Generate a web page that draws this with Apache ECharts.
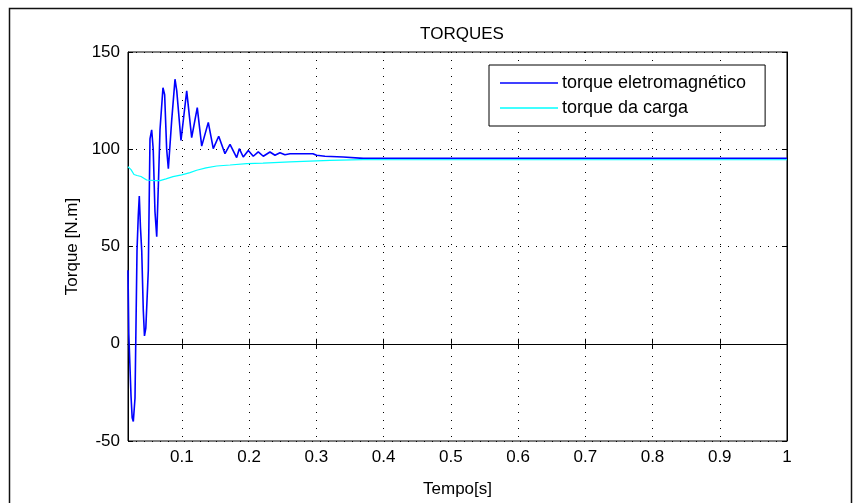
<!DOCTYPE html>
<html>
<head>
<meta charset="utf-8">
<script src="https://cdn.jsdelivr.net/npm/echarts@6/dist/echarts.min.js"></script>
<style>html,body{margin:0;padding:0;background:#fff;}#c{width:863px;height:503px;}</style>
</head>
<body>
<div id="c"></div>
<script>
const titleText = 'TORQUES';
const xName = 'Tempo[s]';
const yName = 'Torque [N.m]';
const seriesNames = ['torque eletromagnético', 'torque da carga'];
const xTicks = [0.1, 0.2, 0.3, 0.4, 0.5, 0.6, 0.7, 0.8, 0.9, 1];
const yTicks = [-50, 0, 50, 100, 150];

const emTime = [0.02, 0.0212, 0.0245, 0.0262, 0.0279, 0.0304, 0.0319, 0.0334, 0.0353, 0.0368, 0.0385, 0.0404, 0.0427, 0.0445, 0.0465, 0.0502, 0.0527, 0.0552, 0.0575, 0.0601, 0.0627, 0.065, 0.0676, 0.072, 0.0745, 0.0775, 0.08, 0.085, 0.0899, 0.0925, 0.0988, 0.1073, 0.1147, 0.123, 0.1296, 0.1394, 0.1468, 0.1549, 0.1642, 0.1717, 0.1816, 0.1855, 0.1914, 0.1989, 0.2063, 0.2137, 0.2212, 0.2311, 0.2386, 0.246, 0.2534, 0.2609, 0.295, 0.3005, 0.3129, 0.34, 0.37, 1.0];
const emTorque = [37.8, 5, -27, -38, -40, -28, -28, 48, 66, 76, 60, 48, 17.5, 4, 8, 37.8, 105.3, 110, 100, 68, 55, 80, 110, 131.6, 128, 100, 90, 115, 136, 130, 104.5, 130, 106, 121.4, 101.6, 113.8, 100.3, 106.7, 97.7, 102.5, 95.7, 100.3, 96, 99.4, 96.4, 98.6, 96.4, 98.6, 96.9, 98.2, 97.2, 97.7, 97.7, 96.9, 96.4, 96, 95.3, 95.3];

const loadTime = [0.02, 0.0245, 0.0289, 0.0334, 0.0393, 0.0478, 0.0601, 0.0676, 0.0765, 0.0869, 0.0998, 0.1122, 0.1221, 0.136, 0.1519, 0.1717, 0.1965, 0.2207, 0.2609, 0.3203, 0.3694, 0.4244, 1.0];
const loadTorque = [91, 89.5, 87, 86.5, 86, 84.2, 83.9, 83.9, 84.8, 85.9, 86.8, 88, 89.2, 90.4, 91.4, 91.9, 92.6, 92.9, 93.5, 94.3, 94.7, 94.6, 94.6];

const FONT = '"Liberation Sans", Arial, sans-serif';
const pairs = (xs, ys) => xs.map((x, i) => [x, ys[i]]);

const chart = echarts.init(document.getElementById('c'), null, {renderer: 'canvas'});
const gridLine = {show: true, lineStyle: {color: '#000', width: 1, type: [1, 7]}};
const tickStyle = {show: true, inside: true, length: 5, lineStyle: {color: '#000', width: 1}};

chart.setOption({
  animation: false,
  backgroundColor: '#fff',
  title: {
    text: titleText, left: 457, top: 21, textAlign: 'center',
    textStyle: {fontFamily: FONT, fontSize: 17, fontWeight: 'normal', color: '#000'}
  },
  legend: {
    data: seriesNames.map(n => ({name: n, icon: 'rect'})),
    orient: 'vertical', left: 489, top: 65,
    backgroundColor: '#fff', borderColor: '#000', borderWidth: 1,
    padding: [9, 19, 9, 11], itemGap: 7, itemWidth: 58, itemHeight: 1.6,
    textStyle: {fontFamily: FONT, fontSize: 18, color: '#000', padding: [0, 0, 0, -1]}
  },
  grid: {left: 128, top: 52, right: 76, bottom: 57, show: true, borderColor: '#000', borderWidth: 1, backgroundColor: '#fff'},
  xAxis: [{
    type: 'value', min: 0.02, max: 1,
    name: xName, nameLocation: 'middle', nameGap: 40,
    nameTextStyle: {fontFamily: FONT, fontSize: 17, color: '#000'},
    axisLine: {show: true, lineStyle: {color: '#000'}},
    axisTick: Object.assign({customValues: xTicks}, tickStyle),
    axisLabel: {customValues: xTicks, fontFamily: FONT, fontSize: 17, color: '#000', margin: 8, formatter: v => String(+v.toFixed(2))},
    splitLine: gridLine
  }, {
    type: 'value', min: 0.02, max: 1, position: 'top',
    axisLine: {show: true, lineStyle: {color: '#000'}},
    axisTick: Object.assign({customValues: xTicks}, tickStyle),
    axisLabel: {show: false}, splitLine: {show: false}
  }],
  yAxis: [{
    type: 'value', min: -50, max: 150, interval: 50,
    name: yName, nameLocation: 'middle', nameGap: 47, nameRotate: 90,
    nameTextStyle: {fontFamily: FONT, fontSize: 17, color: '#000'},
    axisLine: {show: true, lineStyle: {color: '#000'}},
    axisTick: tickStyle,
    axisLabel: {fontFamily: FONT, fontSize: 17, color: '#000', margin: 8},
    splitLine: gridLine
  }, {
    type: 'value', min: -50, max: 150, interval: 50, position: 'right',
    axisLine: {show: true, lineStyle: {color: '#000'}},
    axisTick: tickStyle,
    axisLabel: {show: false}, splitLine: {show: false}
  }],
  graphic: [{
    type: 'rect', left: 7, top: 6, silent: true, z: -10,
    shape: {x: 0, y: 0, width: 842, height: 520},
    style: {fill: 'none', stroke: '#111', lineWidth: 1.5}
  }],
  series: [{
    name: seriesNames[0], type: 'line', showSymbol: false, symbol: 'none',
    data: pairs(emTime, emTorque),
    lineStyle: {color: '#0000ff', width: 1.6}, itemStyle: {color: '#0000ff'}
  }, {
    name: seriesNames[1], type: 'line', showSymbol: false, symbol: 'none',
    data: pairs(loadTime, loadTorque),
    lineStyle: {color: '#00ffff', width: 1.2}, itemStyle: {color: '#00ffff'}
  }]
});
</script>
</body>
</html>
